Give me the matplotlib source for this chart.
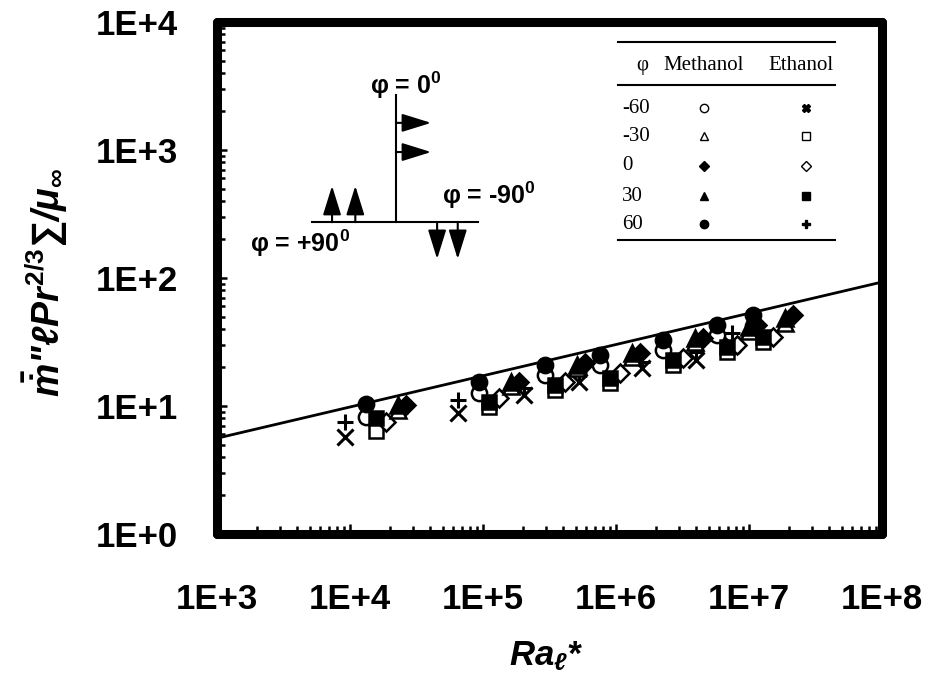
import numpy as np
import matplotlib
matplotlib.use("Agg")
from matplotlib import pyplot as plt

plt.rcParams['font.family'] = 'Liberation Sans'
plt.rcParams['mathtext.fontset'] = 'custom'
plt.rcParams['mathtext.rm'] = 'Liberation Sans:bold'
plt.rcParams['mathtext.it'] = 'Liberation Sans:italic:bold'
plt.rcParams['mathtext.bf'] = 'Liberation Sans:bold'

# ---- data ----
angles = ["-60", "-30", "0", "30", "60"]

# methanol
ra_m_60 = [1.32e4, 9.33e4, 2.92e5, 7.59e5, 2.25e6, 5.74e6, 1.07e7]
y_m_60 = [10.4, 15.4, 20.9, 25.0, 32.8, 42.9, 51.4]
ra_m_n60 = [1.32e4, 9.33e4, 2.92e5, 7.59e5, 2.25e6, 5.74e6, 1.07e7]
y_m_n60 = [8.2, 12.6, 17.5, 20.9, 27.4, 35.9, 42.2]
ra_m_30 = [2.30e4, 1.62e5, 5.09e5, 1.32e6, 3.93e6, 1.0e7, 1.87e7]
y_m_30 = [10.2, 15.4, 20.9, 25.9, 34.0, 41.4, 48.7]
ra_m_n30 = [2.30e4, 1.62e5, 5.09e5, 1.32e6, 3.93e6, 1.0e7, 1.87e7]
y_m_n30 = [9.3, 14.3, 19.8, 24.1, 31.6, 38.5, 44.5]
ra_m_0 = [2.64e4, 1.87e5, 5.85e5, 1.51e6, 4.51e6, 1.15e7, 2.14e7]
y_m_0 = [10.2, 15.4, 21.7, 25.9, 34.0, 42.9, 51.4]

# ethanol
ra_e_30 = [1.57e4, 1.11e5, 3.48e5, 9.02e5, 2.68e6, 6.84e6, 1.27e7]
y_e_30 = [8.1, 10.7, 14.6, 16.5, 22.9, 28.9, 34.6]
ra_e_n30 = [1.57e4, 1.11e5, 3.48e5, 9.02e5, 2.68e6, 6.84e6, 1.27e7]
y_e_n30 = [6.4, 9.8, 13.3, 15.1, 20.9, 26.4, 31.6]
ra_e_0 = [1.87e4, 1.32e5, 4.14e5, 1.07e6, 3.19e6, 8.13e6, 1.51e7]
y_e_0 = [7.5, 11.5, 15.4, 18.1, 23.7, 30.0, 34.6]
ra_e_n60 = [9.17e3, 6.49e4, 2.03e5, 5.27e5, 1.57e6, 4.0e6, 7.45e6]
y_e_n60 = [5.7, 8.8, 12.2, 15.4, 19.8, 22.9, 30.0]
ra_e_60 = [9.17e3, 6.49e4, 2.03e5, 5.27e5, 1.57e6, 4.0e6, 7.45e6]
y_e_60 = [7.5, 11.1, 13.8, 18.1, 22.1, 26.4, 37.2]

# correlation line end points
fit_x = [1e3, 1e8]
fit_y = [5.6, 93.0]

xticks = [1e3, 1e4, 1e5, 1e6, 1e7, 1e8]
yticks = [1e0, 1e1, 1e2, 1e3, 1e4]
xtick_labels = ["1E+3", "1E+4", "1E+5", "1E+6", "1E+7", "1E+8"]
ytick_labels = ["1E+0", "1E+1", "1E+2", "1E+3", "1E+4"]

fig = plt.figure(figsize=(9.34, 6.76), dpi=100)
ax = fig.add_axes([217/934, 1-534/676, 665/934, 512/676])

ax.set_xscale("log")
ax.set_yscale("log")
ax.set_xlim(1e3, 1e8)
ax.set_ylim(1e0, 1e4)

ax.plot(fit_x, fit_y, color="k", lw=2.0, zorder=2)

ms = 11
ew = 1.8
# ethanol
ax.plot(ra_e_n60, y_e_n60, ls="none", marker="x", ms=ms, mew=2.2, color="k", zorder=3)
ax.plot(ra_e_60, y_e_60, ls="none", marker="+", ms=ms, mew=2.2, color="k", zorder=3)
ax.plot(ra_e_n30, y_e_n30, ls="none", marker="s", ms=ms-1, mew=ew, mfc="white", mec="k", zorder=3)
ax.plot(ra_e_0, y_e_0, ls="none", marker="D", ms=ms-2, mew=ew, mfc="white", mec="k", zorder=3)
ax.plot(ra_e_30, y_e_30, ls="none", marker="s", ms=ms-1, mew=ew, mfc="k", mec="k", zorder=4)
# methanol
ax.plot(ra_m_n60, y_m_n60, ls="none", marker="o", ms=ms, mew=ew, mfc="white", mec="k", zorder=3)
ax.plot(ra_m_n30, y_m_n30, ls="none", marker="^", ms=ms, mew=ew, mfc="white", mec="k", zorder=3)
ax.plot(ra_m_30, y_m_30, ls="none", marker="^", ms=ms, mew=ew, mfc="k", mec="k", zorder=4)
ax.plot(ra_m_0, y_m_0, ls="none", marker="D", ms=ms-2, mew=ew, mfc="k", mec="k", zorder=4)
ax.plot(ra_m_60, y_m_60, ls="none", marker="o", ms=ms, mew=ew, mfc="k", mec="k", zorder=4)

# axes frame and ticks
for side in ["left", "bottom", "top", "right"]:
    ax.spines[side].set_linewidth(6.5)
    ax.spines[side].set_capstyle("round")
ax.set_xticks(xticks)
ax.set_xticklabels(xtick_labels)
ax.set_yticks(yticks)
ax.set_yticklabels(ytick_labels)
ax.tick_params(which="major", direction="in", length=7, width=1.8, pad=35,
               labelsize=25, top=False, right=False)
ax.tick_params(which="minor", direction="in", length=5.5, width=1.8,
               top=False, right=False)
ax.tick_params(axis="y", which="major", pad=28)
for lab in ax.get_xticklabels() + ax.get_yticklabels():
    lab.set_fontweight("bold")

fig.text(546/934, 1-655/676, r"$Ra_{\ell}$*", fontsize=25, fontweight="bold",
         style="italic", ha="center", va="center")
fig.text(45/934, 1-283/676, r"$\bar{\dot{m}}$" + '"' + r"$\ell Pr^{2/3}$∑/$\mu_{\infty}$",
         fontsize=27, fontweight="bold", style="italic", rotation=90,
         ha="center", va="center")

# inset sketch of the orientations
lk = dict(color="k", lw=1.5, transform=ax.transAxes)
ax.plot([0.269, 0.269], [0.609, 0.857], **lk)
ax.plot([0.143, 0.392], [0.609, 0.609], **lk)
arr = dict(arrowstyle="-|>,head_length=0.9,head_width=0.28", mutation_scale=20,
           lw=1.5, color="k", shrinkA=0, shrinkB=0)
for yy in [0.803, 0.746]:
    ax.annotate("", xy=(0.322, yy), xytext=(0.269, yy), xycoords="axes fraction",
                arrowprops=arr)
for xx in [0.173, 0.208]:
    ax.annotate("", xy=(xx, 0.680), xytext=(xx, 0.609), xycoords="axes fraction",
                arrowprops=arr)
for xx in [0.331, 0.362]:
    ax.annotate("", xy=(xx, 0.537), xytext=(xx, 0.609), xycoords="axes fraction",
                arrowprops=arr)
tk = dict(transform=ax.transAxes, fontsize=18, fontweight="bold", va="center")
ax.text(0.230, 0.877, r"φ = 0$^{0}$", ha="left", **tk)
ax.text(0.338, 0.662, r"φ = -90$^{0}$", ha="left", **tk)
ax.text(0.050, 0.568, r"φ = +90$^{0}$", ha="left", **tk)

# table-like legend
tx0, tx1 = 0.603, 0.930
for yy in [0.961, 0.877, 0.574]:
    ax.plot([tx0, tx1], [yy, yy], color="k", lw=1.5, transform=ax.transAxes)
sk = dict(transform=ax.transAxes, fontsize=15, family="Liberation Serif",
          va="center", ha="center")
ax.text(0.640, 0.915, "φ", **sk)
ax.text(0.732, 0.915, "Methanol", **sk)
ax.text(0.878, 0.915, "Ethanol", **sk)
row_y = [0.832, 0.777, 0.719, 0.660, 0.605]
meth_mk = [("o", "white"), ("^", "white"), ("D", "k"), ("^", "k"), ("o", "k")]
eth_mk = [("X", "k"), ("s", "white"), ("D", "white"), ("s", "k"), ("P", "k")]
for a, yy, mm, em in zip(angles, row_y, meth_mk, eth_mk):
    ax.text(0.609, yy, a, transform=ax.transAxes, fontsize=15,
            family="Liberation Serif", va="center", ha="left")
    ax.plot([0.732], [yy], marker=mm[0], ms=6 if mm[0] != "D" else 5, mfc=mm[1],
            mec="k", mew=1.0, transform=ax.transAxes, ls="none")
    ax.plot([0.885], [yy], marker=em[0], ms=6 if em[0] != "D" else 5, mfc=em[1],
            mec="k", mew=1.0, transform=ax.transAxes, ls="none")

fig.savefig("out.png", dpi=100)
